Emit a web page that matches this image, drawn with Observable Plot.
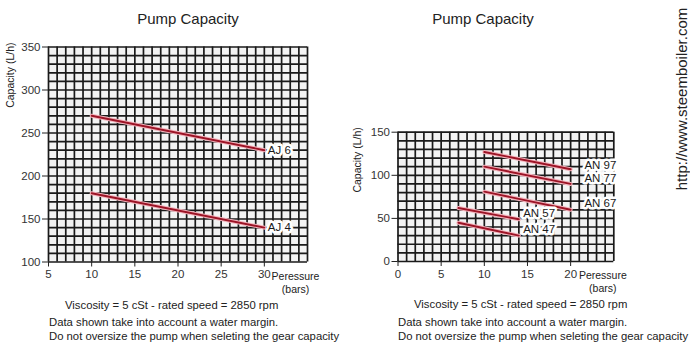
<!DOCTYPE html>
<html>
<head>
<meta charset="utf-8">
<script src="https://cdn.jsdelivr.net/npm/d3@7"></script>
<script src="https://cdn.jsdelivr.net/npm/@observablehq/plot@0.6"></script>
<style>
  html, body { margin: 0; padding: 0; background: #fff; }
  #root { position: relative; width: 690px; height: 354px; overflow: hidden; font-family: "Liberation Sans", Arial, Helvetica, sans-serif; color: #222; }
  .abs { position: absolute; white-space: nowrap; }
  .title { font-size: 15px; transform: translate(-50%, -50%); }
  .note { font-size: 11.3px; transform: translateY(-50%); }
  .url { font-size: 15px; left: 681px; top: 99px; transform: translate(-50%, -50%) rotate(-90deg); }
</style>
</head>
<body>
<div id="root"></div>
<script>
// ---- data: left chart (AJ pumps) ----
const ajSeries   = ["AJ 6", "AJ 6", "AJ 4", "AJ 4"];
const ajPressure = [10, 30, 10, 30];
const ajCapacity = [270, 230, 180, 140];
const ajLabels   = ["AJ 6", "AJ 4"];
const ajLabelX   = [30.4, 30.4];
const ajLabelY   = [230, 140];
const ajXTicks   = [5, 10, 15, 20, 25, 30];
const ajYTicks   = [100, 150, 200, 250, 300, 350];

// ---- data: right chart (AN pumps) ----
const anSeries   = ["AN 97", "AN 97", "AN 77", "AN 77", "AN 67", "AN 67", "AN 57", "AN 57", "AN 47", "AN 47"];
const anPressure = [10, 20, 10, 20, 10, 20, 7, 14, 7, 14];
const anCapacity = [127, 107, 110, 90, 81, 60, 62, 49, 45, 30];
const anLabels   = ["AN 97", "AN 77", "AN 67", "AN 57", "AN 47"];
const anLabelX   = [21.6, 21.6, 21.6, 14.5, 14.5];
const anLabelY   = [112, 96, 67, 55.5, 37];
const anXTicks   = [0, 5, 10, 15, 20];
const anYTicks   = [0, 50, 100, 150];

const titleText = "Pump Capacity";
const yLabel = "Capacity (L/h)";
const xLabel = "Peressure\n(bars)";
const notes = [
  "Viscosity = 5 cSt - rated speed = 2850 rpm",
  "Data shown take into account a water margin.",
  "Do not oversize the pump when seleting the gear capacity"
];
const urlText = "http://www.steemboiler.com";

const root = document.getElementById("root");
const FONT = '"Liberation Sans", Arial, Helvetica, sans-serif';
const RED = "#9c1426";

function chart({series, px, cap, labels, lx, ly, xDomain, yDomain, xTicks, yTicks, margins, yLabelDx, yLabelDy, xLabelDx}) {
  const rows = series.map((s, i) => ({s, p: px[i], c: cap[i]}));
  const lab = labels.map((t, i) => ({t, x: lx[i], y: ly[i]}));
  const vGrid = d3.range(xDomain[0], xDomain[1] + 1, 1);
  const hGrid = d3.range(yDomain[0], yDomain[1] + 1, 10);
  return Plot.plot({
    width: 345,
    height: 300,
    ...margins,
    x: {domain: xDomain},
    y: {domain: yDomain},
    style: {fontFamily: FONT, fontSize: "11px", color: "#333", background: "transparent", overflow: "visible"},
    marks: [
      Plot.frame({fill: "#f3f3f3", stroke: null}),
      Plot.ruleX(vGrid, {stroke: "#1a1a1a", strokeWidth: 1.7}),
      Plot.ruleY(hGrid, {stroke: "#1a1a1a", strokeWidth: 1.7}),
      Plot.axisX({ticks: xTicks, tickSize: 5, tickPadding: 3, label: null, stroke: "#222", fontSize: 11.5}),
      Plot.axisY({ticks: yTicks, tickSize: 6, tickPadding: 2, label: null, stroke: "#222", fontSize: 11.5}),
      Plot.line(rows, {x: "p", y: "c", z: "s", stroke: "#f4b3bc", strokeWidth: 4}),
      Plot.line(rows, {x: "p", y: "c", z: "s", stroke: RED, strokeWidth: 1.9}),
      Plot.text(lab, {x: "x", y: "y", text: "t", textAnchor: "start", fontSize: 11.5, fill: "#1a1a1a", stroke: "white", strokeWidth: 5}),
      Plot.text([yLabel], {frameAnchor: "top-left", rotate: -90, textAnchor: "end", lineAnchor: "middle", dx: yLabelDx, dy: yLabelDy, fontSize: 10.5, fill: "#222"}),
      Plot.text([xLabel], {frameAnchor: "bottom-right", textAnchor: "middle", lineAnchor: "top", lineHeight: 1.2, dx: xLabelDx, dy: 9, fontSize: 10.5, fill: "#222"})
    ]
  });
}

function place(el, left, top) {
  el.style.position = "absolute";
  el.style.left = left + "px";
  el.style.top = top + "px";
  root.appendChild(el);
}

const left = chart({
  series: ajSeries, px: ajPressure, cap: ajCapacity, labels: ajLabels, lx: ajLabelX, ly: ajLabelY,
  xDomain: [5, 35], yDomain: [100, 350], xTicks: ajXTicks, yTicks: ajYTicks,
  margins: {marginLeft: 48, marginRight: 38, marginTop: 46.5, marginBottom: 38.5},
  yLabelDx: -38, yLabelDy: -4.5, xLabelDx: -12
});
place(left, 0, 0);

const right = chart({
  series: anSeries, px: anPressure, cap: anCapacity, labels: anLabels, lx: anLabelX, ly: anLabelY,
  xDomain: [0, 25], yDomain: [0, 150], xTicks: anXTicks, yTicks: anYTicks,
  margins: {marginLeft: 52.5, marginRight: 76.7, marginTop: 131.7, marginBottom: 39},
  yLabelDx: -40.5, yLabelDy: -5, xLabelDx: -11
});
place(right, 345, 0);

function addText(txt, cls, x, y) {
  const d = document.createElement("div");
  d.className = "abs " + cls;
  d.textContent = txt;
  if (x != null) d.style.left = x + "px";
  if (y != null) d.style.top = y + "px";
  root.appendChild(d);
}
addText(titleText, "title", 188, 18);
addText(titleText, "title", 483, 18);
addText(notes[0], "note", 65, 305);
addText(notes[1], "note", 49, 322);
addText(notes[2], "note", 49, 336);
addText(notes[0], "note", 414, 304);
addText(notes[1], "note", 398, 322);
addText(notes[2], "note", 398, 336);
addText(urlText, "url", null, null);
</script>
</body>
</html>
